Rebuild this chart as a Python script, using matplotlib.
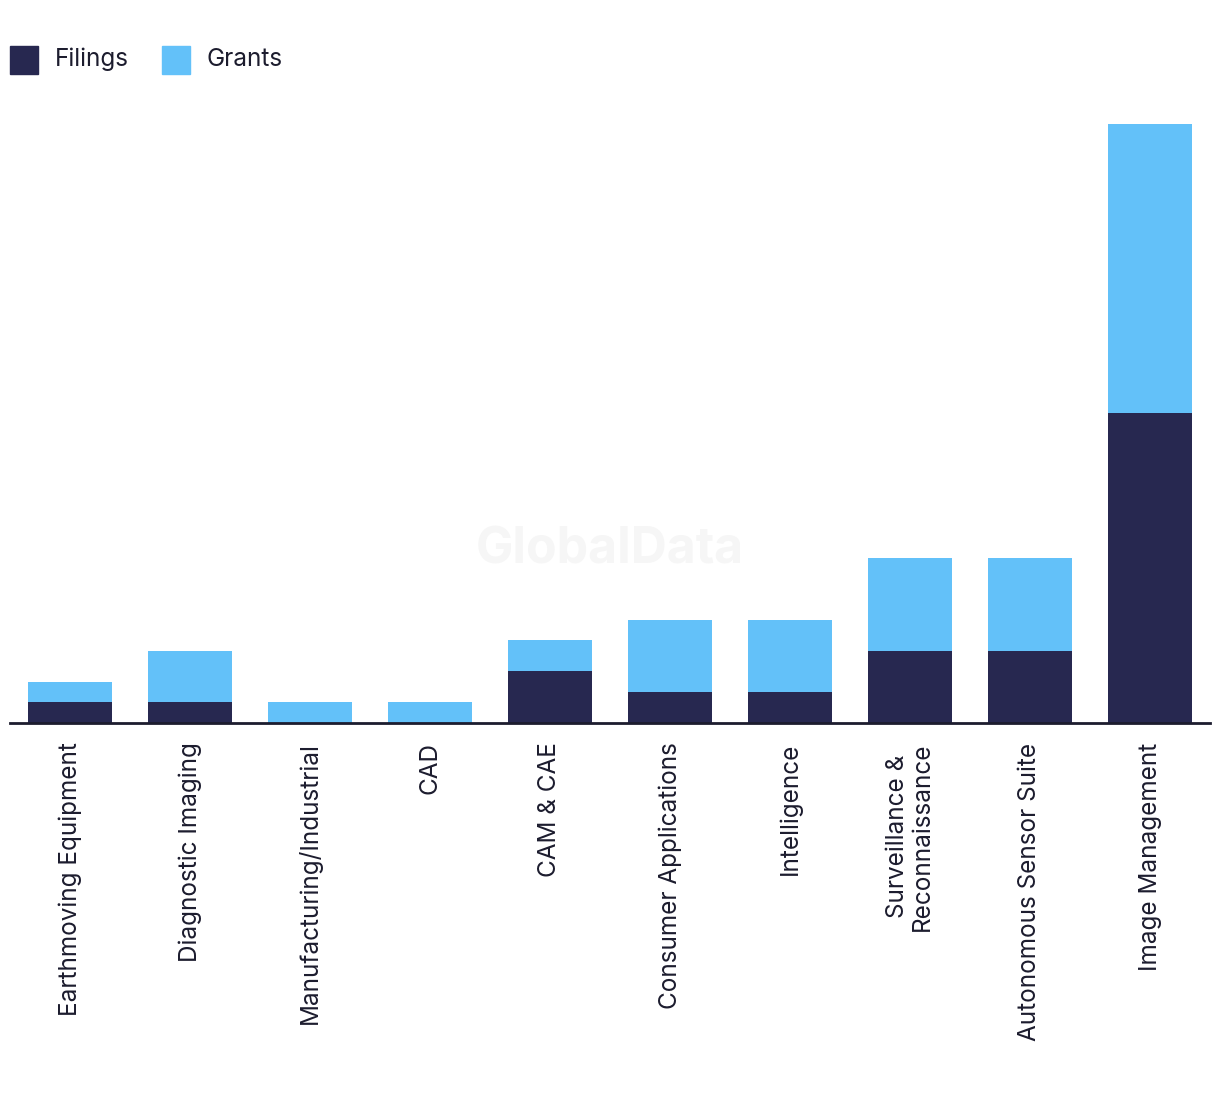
import matplotlib
matplotlib.use('Agg')
import matplotlib.pyplot as plt
from matplotlib.patches import Rectangle
import numpy as np

# Data
categories = [
    'Earthmoving Equipment', 'Diagnostic Imaging', 'Manufacturing/Industrial',
    'CAD', 'CAM & CAE', 'Consumer Applications', 'Intelligence',
    'Surveillance &\nReconnaissance', 'Autonomous Sensor Suite', 'Image Management',
]
filings = [2, 2, 0, 0, 5, 3, 3, 7, 7, 30]
grants = [2, 5, 2, 2, 3, 7, 7, 9, 9, 28]

DARK = '#272850'
LIGHT = '#63c1f9'
TEXT = '#1c1c2e'

plt.rcParams['font.family'] = ['Inter', 'DejaVu Sans']

fig = plt.figure(figsize=(12.2, 10.94), dpi=100)
ax = fig.add_axes([10 / 1220, 371 / 1094, 1200 / 1220, 620 / 1094])

x = np.arange(len(categories))
ax.bar(x, filings, width=0.7, color=DARK, label='Filings', zorder=2)
ax.bar(x, grants, width=0.7, bottom=filings, color=LIGHT, label='Grants', zorder=2)

ax.set_xlim(-0.5, len(categories) - 0.5)
ax.set_ylim(0, 60)
for side in ['top', 'right', 'left']:
    ax.spines[side].set_visible(False)
ax.spines['bottom'].set_color(TEXT)
ax.spines['bottom'].set_linewidth(2)
ax.spines['bottom'].set_zorder(3)
ax.set_yticks([])
ax.set_xticks(x)
ax.set_xticklabels(categories, rotation=90, fontsize=17.5, color=TEXT,
                   ha='center', va='top', multialignment='center', linespacing=1.1)
ax.tick_params(axis='x', length=0, pad=14)

# watermark
fig.text(610 / 1220, 1 - 550 / 1094, 'GlobalData', fontsize=36, fontweight='bold',
         color='#f6f6f6', ha='center', va='center', zorder=0)

# legend drawn as squares + text, like the reference
for sx, name, col in [(10, 'Filings', DARK), (162, 'Grants', LIGHT)]:
    fig.patches.append(Rectangle((sx / 1220, 1 - 74 / 1094), 28 / 1220, 28 / 1094,
                                 transform=fig.transFigure, color=col, figure=fig))
    fig.text((sx + 45) / 1220, 1 - 59 / 1094, name, fontsize=17.5, color=TEXT,
             ha='left', va='center')

fig.savefig('out.png', dpi=100)
